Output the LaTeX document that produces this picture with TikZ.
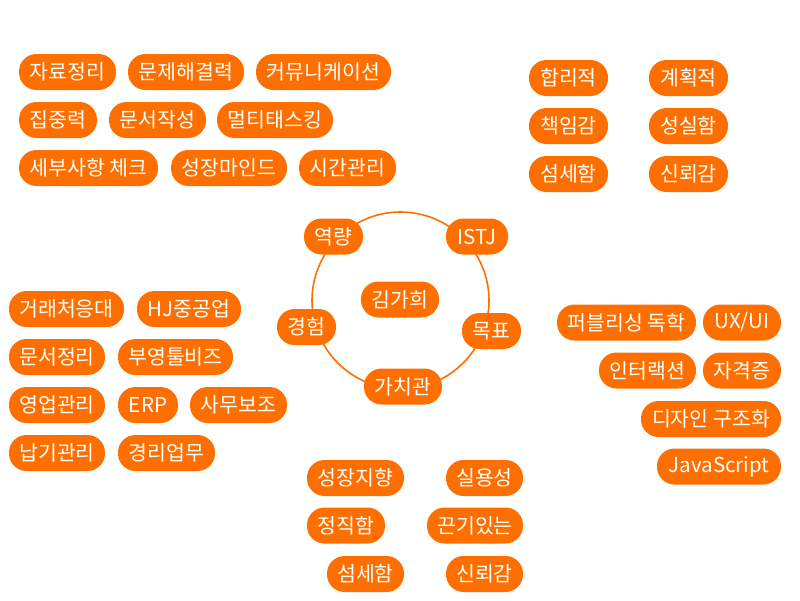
\documentclass[tikz,border=0pt]{standalone}
\usepackage{fontspec}
\setmainfont{Noto Sans CJK KR}
\definecolor{pillorange}{RGB}{255,111,0}
\tikzset{
  pill/.style={fill=pillorange, text=white, rounded corners=17.5pt, minimum height=36pt, inner sep=0pt,
    font=\fontsize{20.5}{22}\selectfont},
  ring/.style={draw=pillorange, line width=1.6pt}
}
\begin{document}
\begin{tikzpicture}[x=1pt,y=-1pt]
\useasboundingbox[fill=white] (0,0) rectangle (800,600);
% ring
\node[ring, circle, minimum size=177pt, inner sep=0pt] (ringc) at (400.5,300.5) {};
% top-left
\node[pill, minimum width=97pt] (a1) at (67.5,72) {자료정리};
\node[pill, minimum width=116pt] (a2) at (186,72) {문제해결력};
\node[pill, minimum width=135pt] (a3) at (323.5,72) {커뮤니케이션};
\node[pill, minimum width=78pt] (a4) at (58,120) {집중력};
\node[pill, minimum width=97pt] (a5) at (157.5,120) {문서작성};
\node[pill, minimum width=116pt] (a6) at (275,120) {멀티태스킹};
\node[pill, minimum width=139pt] (a7) at (88.5,168) {세부사항 체크};
\node[pill, minimum width=116pt] (a8) at (229,168) {성장마인드};
\node[pill, minimum width=97pt] (a9) at (347.5,168) {시간관리};
% top-right
\node[pill, minimum width=79pt] (b1) at (568.5,78) {합리적};
\node[pill, minimum width=79pt] (b2) at (688.5,78) {계획적};
\node[pill, minimum width=79pt] (b3) at (568.5,126) {책임감};
\node[pill, minimum width=79pt] (b4) at (688.5,126) {성실함};
\node[pill, minimum width=79pt] (b5) at (568.5,174) {섬세함};
\node[pill, minimum width=79pt] (b6) at (688.5,174) {신뢰감};
% centre
\node[pill, minimum width=59pt] (c1) at (333.5,236.5) {역량};
\node[pill, minimum width=62pt] (c2) at (477,236.5) {ISTJ};
\node[pill, minimum width=78pt] (c0) at (400,299.5) {김가희};
\node[pill, minimum width=59pt] (c3) at (306.5,327) {경험};
\node[pill, minimum width=59pt] (c4) at (491.5,331) {목표};
\node[pill, minimum width=78pt] (c5) at (403,386.5) {가치관};
% left
\node[pill, minimum width=115pt] (d1) at (66.5,309) {거래처응대};
\node[pill, minimum width=104pt] (d2) at (189,309) {HJ중공업};
\node[pill, minimum width=96pt] (d3) at (57,357) {문서정리};
\node[pill, minimum width=115pt] (d4) at (175.5,357) {부영툴비즈};
\node[pill, minimum width=96pt] (d5) at (57,405) {영업관리};
\node[pill, minimum width=60pt] (d6) at (148,405) {ERP};
\node[pill, minimum width=97pt] (d7) at (238.5,405) {사무보조};
\node[pill, minimum width=96pt] (d8) at (57,453) {납기관리};
\node[pill, minimum width=97pt] (d9) at (166.5,453) {경리업무};
% right
\node[pill, minimum width=139pt] (e1) at (626.5,322.5) {퍼블리싱 독학};
\node[pill, minimum width=78pt] (e2) at (742,322.5) {UX/UI};
\node[pill, minimum width=97pt] (e3) at (647.5,370.5) {인터랙션};
\node[pill, minimum width=78pt] (e4) at (742,370.5) {자격증};
\node[pill, minimum width=140pt] (e5) at (711,419) {디자인 구조화};
\node[pill, minimum width=124pt] (e6) at (719,466.5) {JavaScript};
% bottom
\node[pill, minimum width=97pt] (f1) at (355.5,478) {성장지향};
\node[pill, minimum width=77pt] (f2) at (484.5,478) {실용성};
\node[pill, minimum width=78pt] (f3) at (346,525.5) {정직함};
\node[pill, minimum width=96pt] (f4) at (475,525.5) {끈기있는};
\node[pill, minimum width=77pt] (f5) at (365.5,574) {섬세함};
\node[pill, minimum width=77pt] (f6) at (484.5,574) {신뢰감};
\end{tikzpicture}
\end{document}
